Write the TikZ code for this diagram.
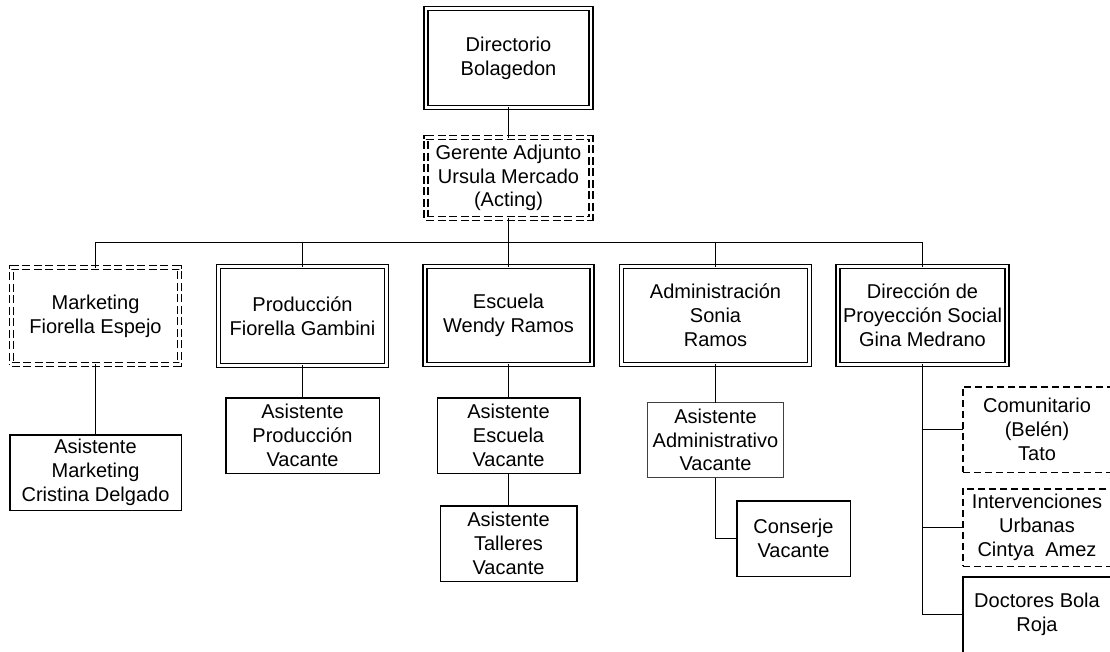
\documentclass[tikz,border=0pt]{standalone}
\usepackage{fontspec}
\setmainfont{Liberation Sans}
\begin{document}
\begin{tikzpicture}[x=1pt,y=-1pt,
  txt/.style={align=center,inner sep=0pt,outer sep=0pt,font=\fontsize{20}{23.8}\selectfont},
  dbox/.style={txt,draw,line width=1.5pt,double,double distance=2.6pt},
  ddbox/.style={dbox,dash pattern=on 8pt off 3.5pt},
  sbox/.style={txt,draw,line width=1.5pt},
  thinbox/.style={txt,draw=black!75,line width=1.2pt},
  dsbox/.style={sbox,dash pattern=on 7pt off 4pt},
  conn/.style={line width=1.7pt}]
\useasboundingbox (0,0) rectangle (1110,652);
% level 0-1
\node[dbox,minimum width=164.8pt,minimum height=98.8pt] (dir) at (508.5,58) {Directorio\\Bolagedon};
\node[ddbox,minimum width=164.8pt,minimum height=80.8pt] (ger) at (508.5,178) {Gerente Adjunto\\Ursula Mercado\\(Acting)};
% level 2
\node[ddbox,minimum width=167.8pt,minimum height=96.8pt] (mk) at (95.5,316) {Marketing\\Fiorella Espejo};
\node[dbox,minimum width=167.8pt,minimum height=98.8pt] (pr) at (302.5,316) {Producción\\Fiorella Gambini};
\node[dbox,minimum width=166.8pt,minimum height=97.8pt] (es) at (508.5,315.5) {Escuela\\Wendy Ramos};
\node[dbox,minimum width=187.8pt,minimum height=97.8pt] (ad) at (715.5,315.5) {Administración\\Sonia\\Ramos};
\node[dbox,minimum width=168.8pt,minimum height=97.8pt] (dp) at (922.5,315.5) {Dirección de\\Proyección Social\\Gina Medrano};
% level 3
\node[sbox,minimum width=171.5pt,minimum height=75.5pt] (am) at (95.5,472.5) {Asistente\\Marketing\\Cristina Delgado};
\node[sbox,minimum width=153.5pt,minimum height=75.5pt] (ap) at (302.5,435.5) {Asistente\\Producción\\Vacante};
\node[sbox,minimum width=142.5pt,minimum height=75.5pt] (ae) at (508.5,435.5) {Asistente\\Escuela\\Vacante};
\node[sbox,minimum width=136.5pt,minimum height=75.5pt] (at) at (508.5,543.5) {Asistente\\Talleres\\Vacante};
\node[thinbox,minimum width=136pt,minimum height=75pt] (aa) at (715.5,440) {Asistente\\Administrativo\\Vacante};
\node[sbox,minimum width=113.5pt,minimum height=75.5pt] (cs) at (793.5,538.5) {Conserje\\Vacante};
\node[dsbox,minimum width=148.5pt,minimum height=85.5pt] (cm) at (1037,429.5) {Comunitario\\(Belén)\\Tato};
\node[dsbox,minimum width=148.5pt,minimum height=77.5pt] (iv) at (1037,527.5) {Intervenciones\\Urbanas\\Cintya~~Amez};
\node[sbox,minimum width=148.5pt,minimum height=75.5pt] (dr) at (1037,614.5) {Doctores Bola\\Roja};
% connectors
\coordinate (bus) at (508.5,242.5);
\draw[conn] (dir.south) -- (ger.north);
\draw[conn] (ger.south) -- (bus);
\draw[conn] (mk.north) |- (bus) -| (dp.north);
\foreach \n in {pr,es,ad} \draw[conn] (\n.north |- bus) -- (\n.north);
\draw[conn] (mk.south) -- (am.north);
\draw[conn] (pr.south) -- (ap.north);
\draw[conn] (es.south) -- (ae.north);
\draw[conn] (ae.south) -- (at.north);
\draw[conn] (ad.south) -- (aa.north);
\draw[conn] (aa.south) |- (cs.west);
\draw[conn] (dp.south) |- (dr.west);
\draw[conn] (dp.south |- cm.west) -- (cm.west);
\draw[conn] (dp.south |- iv.west) -- (iv.west);
\end{tikzpicture}
\end{document}
